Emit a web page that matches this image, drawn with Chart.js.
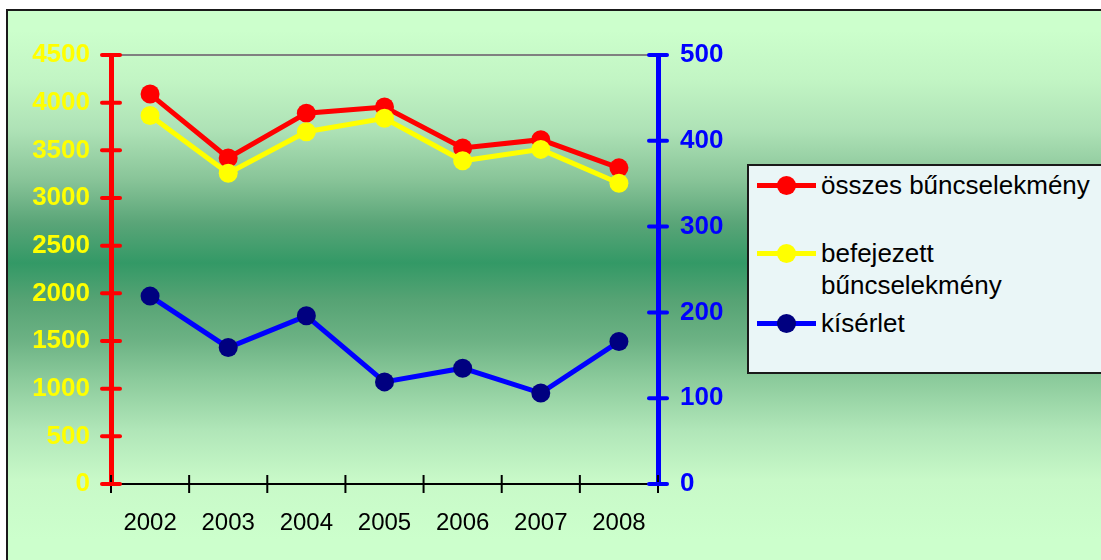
<!DOCTYPE html>
<html>
<head>
<meta charset="utf-8">
<script src="https://cdn.jsdelivr.net/npm/chart.js@4.4.0/dist/chart.umd.min.js"></script>
<style>
html, body { margin: 0; padding: 0; background: #fff; width: 1101px; height: 560px; overflow: hidden; }
#frame {
  position: absolute; left: 6px; top: 9px; width: 1200px; height: 700px;
  border: 2px solid #1a1a1a;
  background: linear-gradient(to bottom,
    #ccffcc 0px, #ccffcc 19px, #c2f5c4 69px, #aee2b6 119px, #88c498 169px, #5aa578 212px,
    #339966 252px, #56a374 289px, #6cb284 329px, #8ccb9c 369px, #b0e6b8 419px,
    #c8f9c8 469px, #ccffcc 529px);
}
#c { position: absolute; left: 0; top: 0; }
#legend {
  position: absolute; left: 747px; top: 164px; width: 420px; height: 206px;
  border: 2px solid #1a1a1a; background: #eaf6f7;
  font-family: "Liberation Sans", Arial, sans-serif; font-size: 26px; color: #000;
}
.item { position: absolute; left: 0; }
.item .sym { position: absolute; left: 8px; top: 14px; width: 59px; height: 5px; }
.item .dot { position: absolute; left: 28px; top: 7px; width: 19px; height: 19px; border-radius: 50%; }
.item .txt { position: absolute; left: 72px; top: 0; width: 285px; line-height: 32px; }
</style>
</head>
<body>
<div id="frame"></div>
<canvas id="c" width="1101" height="560"></canvas>
<div id="legend"></div>
<script>
var years = ['2002', '2003', '2004', '2005', '2006', '2007', '2008'];
var osszes = [4090, 3420, 3890, 3955, 3525, 3612, 3316];
var befejezett = [3865, 3260, 3695, 3836, 3390, 3510, 3154];
var kiserlet = [219, 159, 196, 119, 135, 106, 166];
var seriesNames = ['összes bűncselekmény', 'befejezett bűncselekmény', 'kísérlet'];
var lineColours = ['#ff0000', '#ffff00', '#0000ff'];
var markerColours = ['#ff0000', '#ffff00', '#000080'];
var leftMax = 4500, leftStep = 500;
var rightMax = 500, rightStep = 100;

Chart.defaults.font.family = '"Liberation Sans", Arial, sans-serif';

// ticks that cross the axis lines
var crossTicks = {
  id: 'crossTicks',
  beforeDatasetsDraw: function(chart) {
    var ctx = chart.ctx;
    var x = chart.scales.x, yl = chart.scales.y, yr = chart.scales.y1;
    ctx.save();
    ctx.lineCap = 'butt';
    // x axis, ticks between categories
    var half = (x.getPixelForValue(1) - x.getPixelForValue(0)) / 2;
    ctx.strokeStyle = '#000';
    ctx.lineWidth = 2;
    for (var i = 0; i <= years.length; i++) {
      var px = x.getPixelForValue(i) - half;
      ctx.beginPath();
      ctx.moveTo(px, x.top - 9);
      ctx.lineTo(px, x.top + 9);
      ctx.stroke();
    }
    ctx.lineWidth = 4;
    ctx.lineCap = 'round';
    [[yl, '#ff0000', yl.right], [yr, '#0000ff', yr.left]].forEach(function(s) {
      ctx.strokeStyle = s[1];
      s[0].ticks.forEach(function(t) {
        var py = s[0].getPixelForValue(t.value);
        ctx.beginPath();
        ctx.moveTo(s[2] - 9, py);
        ctx.lineTo(s[2] + 9, py);
        ctx.stroke();
      });
    });
    ctx.restore();
  }
};

var datasetValues = [osszes, befejezett, kiserlet];
var axisIds = ['y', 'y', 'y1'];
var drawOrder = [1, 0, 2];
var datasets = datasetValues.map(function(vals, i) {
  return {
    label: seriesNames[i],
    data: vals,
    yAxisID: axisIds[i],
    order: drawOrder[i],
    borderColor: lineColours[i],
    backgroundColor: markerColours[i],
    pointBackgroundColor: markerColours[i],
    pointBorderColor: markerColours[i],
    borderWidth: 5,
    pointRadius: 9.5,
    pointBorderWidth: 0,
    tension: 0,
    fill: false
  };
});

var plainNumber = function(v) { return String(v); };

var config = {
  type: 'line',
  data: { labels: years, datasets: datasets },
  options: {
    responsive: false,
    animation: false,
    events: [],
    layout: { padding: { left: 0, top: 55, right: 363, bottom: 0 } },
    plugins: { legend: { display: false }, tooltip: { enabled: false } },
    scales: {
      x: {
        offset: true,
        grid: { display: false, drawTicks: false },
        border: { display: true, color: '#000', width: 2 },
        ticks: { color: '#000', font: { size: 24 }, padding: 25, maxRotation: 0 },
        afterFit: function(s) { s.height = 76; }
      },
      y: {
        position: 'left',
        min: 0, max: leftMax,
        grid: {
          drawTicks: false,
          lineWidth: 2,
          color: function(c) { return c.tick && c.tick.value === leftMax ? '#808080' : 'rgba(0,0,0,0)'; }
        },
        border: { display: true, color: '#ff0000', width: 5 },
        ticks: { stepSize: leftStep, color: '#ffff00', font: { size: 26, weight: 'bold' }, padding: 21, callback: plainNumber },
        afterFit: function(s) { s.width = 111; }
      },
      y1: {
        position: 'right',
        min: 0, max: rightMax,
        grid: { display: false, drawTicks: false },
        border: { display: true, color: '#0000ff', width: 5 },
        ticks: { stepSize: rightStep, color: '#0000ff', font: { size: 26, weight: 'bold' }, padding: 22, callback: plainNumber },
        afterFit: function(s) { s.width = 80; }
      }
    }
  },
  plugins: [crossTicks]
};

var ctx = document.getElementById('c').getContext('2d');
window.myChart = new Chart(ctx, config);

// legend built from the series
var legendTops = [3, 71, 141];
var legend = document.getElementById('legend');
seriesNames.forEach(function(name, i) {
  var item = document.createElement('div');
  item.className = 'item';
  item.style.top = legendTops[i] + 'px';
  item.innerHTML = '<div class="sym" style="background:' + lineColours[i] + '"></div>' +
    '<div class="dot" style="background:' + markerColours[i] + '"></div>' +
    '<div class="txt">' + name + '</div>';
  legend.appendChild(item);
});
</script>
</body>
</html>
